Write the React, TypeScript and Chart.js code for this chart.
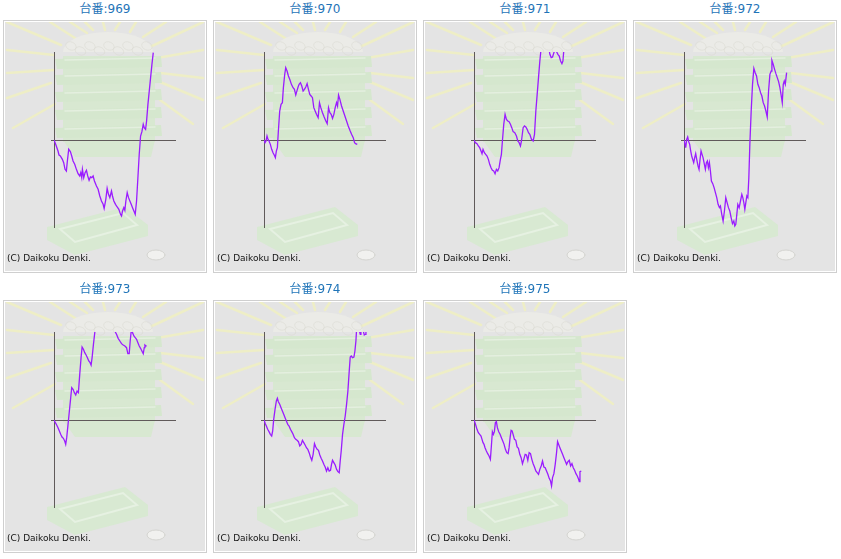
import React, { useEffect, useRef } from "react";
import { Chart, registerables } from "chart.js";

Chart.register(...registerables);

// machine numbers (panel titles)
const machineNos: number[] = [969, 970, 971, 972, 973, 974, 975];

// [games, coin difference]
const series969: [number, number][] = [
  [0, 0], [100, -130], [240, -330], [300, -450], [380, -480], [500, -580], [580, -680], [660, -880], [740, -930], [800, -630],
  [880, -280], [980, -350], [1060, -480], [1140, -630], [1240, -730], [1340, -880], [1440, -1010], [1540, -1080], [1600, -980], [1660, -1130],
  [1700, -880], [1780, -1130], [1860, -980], [1940, -910], [2020, -1080], [2100, -1210], [2180, -1110], [2260, -1130], [2340, -1080], [2420, -1230],
  [2540, -1380], [2640, -1480], [2740, -1680], [2840, -1830], [2940, -1930], [3000, -2050], [3100, -1780], [3180, -1450], [3260, -1630], [3340, -1730],
  [3440, -1530], [3500, -1680], [3580, -1830], [3680, -1930], [3780, -2010], [3880, -2080], [3980, -2230], [4040, -2280], [4100, -2130], [4180, -2030],
  [4240, -2110], [4300, -1830], [4380, -1580], [4460, -1730], [4540, -1830], [4620, -1930], [4700, -2030], [4780, -2130], [4860, -2230], [4940, -1830],
  [5020, -1130], [5100, -430], [5180, 120], [5260, 250], [5340, 470], [5400, 370], [5480, 320], [5540, 570], [5620, 1070], [5700, 1470],
  [5780, 1870], [5860, 2270], [5940, 2620],
];

const series970: [number, number][] = [
  [0, 0], [60, -80], [120, -30], [180, 120], [240, 20], [300, -30], [380, -130], [460, -280], [540, -380], [620, -460],
  [680, -530], [740, -330], [800, -230], [860, 270], [940, 870], [1020, 1070], [1100, 1120], [1160, 1570], [1240, 1970], [1300, 2170],
  [1380, 2070], [1460, 1920], [1540, 1820], [1640, 1670], [1740, 1570], [1820, 1520], [1900, 1350], [1980, 1490], [2040, 1590], [2100, 1670],
  [2180, 1720], [2260, 1620], [2340, 1470], [2420, 1520], [2500, 1590], [2580, 1690], [2660, 1520], [2740, 1370], [2820, 1320], [2900, 1270],
  [2980, 970], [3060, 870], [3140, 770], [3240, 670], [3320, 1120], [3400, 970], [3500, 820], [3600, 690], [3700, 570], [3780, 490],
  [3860, 970], [3940, 820], [4020, 770], [4100, 650], [4180, 770], [4260, 970], [4340, 1120], [4400, 1020], [4460, 1350], [4540, 1220],
  [4640, 1020], [4740, 870], [4840, 720], [4940, 570], [5040, 420], [5140, 290], [5240, 170], [5340, 70], [5420, -80], [5480, -110],
  [5580, -130],
];

const series971: [number, number][] = [
  [0, 0], [80, -80], [180, -110], [260, -180], [340, -230], [420, -330], [480, -410], [540, -280], [620, -380], [700, -430],
  [780, -480], [860, -580], [940, -730], [1020, -830], [1100, -910], [1180, -930], [1260, -1010], [1340, -880], [1420, -930], [1500, -830],
  [1580, -580], [1640, -430], [1700, -30], [1780, 470], [1860, 770], [1940, 620], [2020, 570], [2100, 550], [2180, 470], [2260, 370],
  [2340, 250], [2440, 220], [2540, 120], [2620, -30], [2700, -80], [2780, -180], [2840, -30], [2940, 370], [3020, 420], [3100, 390],
  [3180, 320], [3260, 220], [3340, 170], [3440, 20], [3540, -30], [3620, 170], [3700, 870], [3780, 1370], [3860, 1870], [3940, 2370],
  [4020, 2770], [4140, 3170], [4300, 3070], [4460, 2820], [4540, 2570], [4620, 2470], [4700, 2490], [4780, 2620], [4860, 2720], [4940, 2650],
  [5020, 2570], [5100, 2520], [5180, 2370], [5260, 2290], [5320, 2370], [5380, 2720],
];

const series972: [number, number][] = [
  [0, 0], [60, -130], [100, -230], [160, 20], [220, 90], [280, -50], [340, -130], [400, -330], [460, -480], [520, -580],
  [580, -680], [640, -530], [700, -410], [760, -580], [840, -780], [900, -880], [960, -580], [1020, -330], [1080, -430], [1140, -530],
  [1220, -730], [1280, -880], [1340, -680], [1400, -630], [1460, -830], [1520, -680], [1580, -930], [1640, -1230], [1720, -1310], [1800, -1430],
  [1880, -1580], [1960, -1730], [2040, -1930], [2120, -2030], [2180, -1980], [2260, -2230], [2340, -2430], [2420, -2130], [2500, -1730], [2580, -1880],
  [2660, -2030], [2740, -2130], [2820, -2330], [2900, -2510], [2980, -2430], [3040, -2580], [3100, -2530], [3160, -2230], [3220, -1930], [3300, -2030],
  [3380, -1830], [3460, -1630], [3520, -1730], [3580, -1880], [3640, -2080], [3700, -1880], [3760, -1680], [3820, -1730], [3880, -1130], [3940, -130],
  [4020, 870], [4100, 1670], [4180, 2150], [4260, 2020], [4340, 1920], [4420, 1670], [4500, 1570], [4580, 1420], [4660, 1320], [4740, 1120],
  [4820, 1020], [4900, 870], [4980, 690], [5060, 1470], [5140, 1970], [5220, 2070], [5260, 2390], [5340, 2270], [5420, 2120], [5500, 1990],
  [5580, 1870], [5660, 1750], [5740, 1570], [5820, 1320], [5880, 1120], [5940, 1670], [6000, 1770], [6060, 1670], [6140, 2020],
];

const series973: [number, number][] = [
  [0, 0], [80, -80], [160, -150], [240, -230], [320, -330], [400, -430], [480, -510], [560, -550], [640, -630], [700, -730],
  [760, -530], [840, -130], [920, 270], [1000, 670], [1060, 970], [1140, 920], [1220, 820], [1300, 750], [1380, 870], [1460, 820],
  [1540, 1370], [1620, 1870], [1680, 2190], [1760, 2120], [1840, 2020], [1920, 1950], [2000, 1870], [2080, 1770], [2160, 1720], [2220, 1650],
  [2280, 1870], [2360, 2270], [2440, 2620], [2500, 2970], [2940, 3470], [3340, 3170], [3640, 2670], [3740, 2570], [3840, 2450], [3940, 2370],
  [4040, 2290], [4140, 2250], [4240, 2220], [4340, 2170], [4420, 1990], [4500, 1990], [4560, 2370], [4620, 2670], [4700, 2620], [4780, 2520],
  [4860, 2470], [4940, 2420], [5020, 2320], [5100, 2220], [5180, 2150], [5260, 2070], [5340, 1990], [5400, 2170], [5440, 2250], [5500, 2220],
  [5540, 2230],
];

const series974: [number, number][] = [
  [0, 0], [80, -110], [140, -180], [220, -280], [300, -350], [380, -430], [460, -480], [520, -330], [580, 20], [660, 320],
  [740, 570], [800, 650], [860, 550], [940, 470], [1020, 370], [1100, 270], [1180, 170], [1260, 70], [1340, -30], [1420, -130],
  [1500, -180], [1580, -280], [1660, -350], [1740, -430], [1820, -530], [1900, -580], [1980, -610], [2060, -650], [2140, -780], [2220, -730],
  [2300, -610], [2380, -680], [2460, -750], [2540, -830], [2620, -880], [2700, -980], [2780, -1110], [2860, -1210], [2940, -1030], [3020, -710],
  [3100, -810], [3180, -880], [3260, -910], [3340, -1050], [3420, -1150], [3500, -1230], [3580, -1330], [3660, -1410], [3740, -1530], [3820, -1430],
  [3900, -1530], [3980, -1510], [4040, -1330], [4100, -1210], [4180, -1280], [4260, -1350], [4340, -1480], [4420, -1550], [4500, -1580], [4560, -1230],
  [4620, -930], [4700, -430], [4780, -130], [4860, 120], [4940, 470], [5020, 870], [5100, 1470], [5160, 1890], [5220, 1920], [5300, 1870],
  [5380, 1890], [5440, 2070], [5500, 2370], [5540, 2720], [5580, 2820], [5660, 2920], [5720, 2650], [5760, 2570], [5800, 2770], [5880, 2920],
  [5940, 2670], [6000, 2550], [6060, 2570], [6100, 2670], [6140, 2770],
];

const series975: [number, number][] = [
  [0, 0], [60, -80], [120, -180], [180, -280], [260, -380], [340, -430], [420, -480], [480, -580], [540, -680], [600, -730],
  [660, -830], [740, -930], [820, -1010], [900, -1080], [980, -1180], [1040, -780], [1100, -350], [1160, -430], [1220, -350], [1280, -80],
  [1340, -50], [1400, -230], [1480, -350], [1560, -430], [1640, -530], [1720, -630], [1800, -730], [1880, -880], [1960, -980], [2040, -1010],
  [2100, -830], [2160, -530], [2220, -310], [2280, -330], [2340, -430], [2420, -580], [2500, -610], [2580, -810], [2660, -850], [2740, -1030],
  [2820, -1130], [2900, -1310], [2980, -1180], [3060, -1030], [3140, -1050], [3220, -1210], [3300, -980], [3380, -1010], [3460, -1180], [3540, -1310],
  [3620, -1410], [3700, -1530], [3780, -1580], [3860, -1630], [3940, -1480], [4020, -1380], [4100, -1230], [4180, -1410], [4260, -1430], [4340, -1530],
  [4420, -1630], [4500, -1750], [4580, -1830], [4640, -1980], [4700, -1730], [4780, -1610], [4860, -1330], [4940, -980], [5000, -650], [5060, -730],
  [5140, -830], [5220, -930], [5300, -1030], [5380, -1130], [5460, -1230], [5540, -1330], [5620, -1250], [5700, -1210], [5780, -1380], [5860, -1310],
  [5940, -1430], [6020, -1510], [6100, -1610], [6180, -1680], [6260, -1780], [6300, -1850], [6340, -1550], [6420, -1530],
];

const allSeries: [number, number][][] = [series969, series970, series971, series972, series973, series974, series975];

// axis ranges (no tick labels in the original)
const X_MIN = 0;
const X_MAX = 7300;
const Y_MIN = -2640;
const Y_MAX = 2640;

const LINE_COLOR = "#9a1cff";
const AXIS_COLOR = "#605a5a";
const TITLE_COLOR = "#1f74b8";

// decorative background (pale machine illustration)
const backdropPlugin = {
  id: "backdrop",
  beforeDraw(chart: any) {
    const ctx: CanvasRenderingContext2D = chart.ctx;
    const w = chart.width;
    const h = chart.height;
    ctx.save();
    ctx.fillStyle = "#e4e4e4";
    ctx.fillRect(0, 0, w, h);

    // rays
    const rays: number[][] = [
      [2, 0, 56, 23], [2, 28, 49, 33], [2, 51, 49, 48], [2, 76, 46, 61], [8, 106, 50, 82],
      [198, 0, 145, 25], [198, 28, 152, 36], [198, 56, 155, 51], [198, 78, 155, 60], [188, 102, 155, 78],
      [45, 0, 73, 18], [65, 0, 82, 11], [80, 0, 88, 8], [98, 0, 100, 8], [115, 0, 110, 8], [131, 0, 125, 10], [161, 0, 138, 15],
    ];
    ctx.strokeStyle = "#eeeec6";
    ctx.lineWidth = 2.5;
    ctx.lineCap = "round";
    rays.forEach((r) => {
      ctx.beginPath();
      ctx.moveTo(r[0], r[1]);
      ctx.lineTo(r[2], r[3]);
      ctx.stroke();
    });

    // pile of balls on top
    ctx.fillStyle = "#ebebe7";
    ctx.beginPath();
    ctx.ellipse(103, 30, 45, 20, 0, Math.PI, 2 * Math.PI);
    ctx.fill();
    ctx.strokeStyle = "#dcdcd6";
    ctx.lineWidth = 0.7;
    for (let i = 0; i < 9; i++) {
      ctx.beginPath();
      ctx.ellipse(66 + i * 9.5, 24 + (i % 2) * 5, 5.5, 4, 0.4, 0, 2 * Math.PI);
      ctx.stroke();
    }

    // stacked green trays
    ctx.fillStyle = "#d8e8d1";
    ctx.fillRect(58, 34, 92, 86);
    ctx.beginPath();
    ctx.moveTo(58, 118);
    ctx.lineTo(150, 118);
    ctx.lineTo(146, 135);
    ctx.lineTo(70, 135);
    ctx.closePath();
    ctx.fill();
    const tiers = [34, 50, 67, 85, 103];
    tiers.forEach((ty) => {
      ctx.fillStyle = "#d5e7ce";
      ctx.beginPath();
      ctx.moveTo(50, ty + 3);
      ctx.lineTo(156, ty);
      ctx.lineTo(157, ty + 11);
      ctx.lineTo(52, ty + 13);
      ctx.closePath();
      ctx.fill();
      ctx.strokeStyle = "#e4efdf";
      ctx.lineWidth = 1.5;
      ctx.beginPath();
      ctx.moveTo(60, ty + 4);
      ctx.lineTo(150, ty + 2);
      ctx.stroke();
    });

    // bottom tray
    ctx.fillStyle = "#d8e9d2";
    ctx.beginPath();
    ctx.moveTo(42, 205);
    ctx.lineTo(120, 185);
    ctx.lineTo(143, 203);
    ctx.lineTo(143, 214);
    ctx.lineTo(70, 233);
    ctx.lineTo(42, 218);
    ctx.closePath();
    ctx.fill();
    ctx.strokeStyle = "#e6f1e2";
    ctx.lineWidth = 2;
    ctx.beginPath();
    ctx.moveTo(55, 207);
    ctx.lineTo(118, 191);
    ctx.lineTo(132, 203);
    ctx.lineTo(70, 220);
    ctx.closePath();
    ctx.stroke();

    // coin
    ctx.fillStyle = "#f1f1ef";
    ctx.strokeStyle = "#d4d4d0";
    ctx.lineWidth = 1;
    ctx.beginPath();
    ctx.ellipse(151, 233, 9, 5, 0, 0, 2 * Math.PI);
    ctx.fill();
    ctx.stroke();
    ctx.restore();
  },
  beforeDatasetsDraw(chart: any) {
    const ctx: CanvasRenderingContext2D = chart.ctx;
    const area = chart.chartArea;
    const x0 = Math.round(chart.scales.x.getPixelForValue(0)) + 0.5;
    const y0 = Math.round(chart.scales.y.getPixelForValue(0)) + 0.5;
    ctx.save();
    ctx.strokeStyle = AXIS_COLOR;
    ctx.lineWidth = 1;
    ctx.beginPath();
    ctx.moveTo(x0, area.top);
    ctx.lineTo(x0, area.bottom);
    ctx.moveTo(x0 - 3.5, y0);
    ctx.lineTo(area.right, y0);
    ctx.stroke();
    ctx.restore();
  },
};

function Panel({ points }: { points: [number, number][] }) {
  const ref = useRef<HTMLCanvasElement | null>(null);
  useEffect(() => {
    if (!ref.current) return;
    const chart = new Chart(ref.current, {
      type: "line",
      data: {
        datasets: [
          {
            data: points.map(([x, y]) => ({ x, y })),
            borderColor: LINE_COLOR,
            borderWidth: 1.3,
            pointRadius: 0,
            tension: 0,
            fill: false,
          },
        ],
      },
      options: {
        animation: false,
        responsive: false,
        maintainAspectRatio: false,
        events: [],
        layout: { padding: { left: 49, right: 29, top: 30, bottom: 43 } },
        plugins: {
          legend: { display: false },
          tooltip: { enabled: false },
          title: { display: false },
        },
        scales: {
          x: { type: "linear", min: X_MIN, max: X_MAX, display: false },
          y: { type: "linear", min: Y_MIN, max: Y_MAX, display: false },
        },
      },
      plugins: [backdropPlugin],
    } as any);
    return () => chart.destroy();
  }, [points]);
  return <canvas ref={ref} width={200} height={249} style={{ display: "block" }} />;
}

export default function App() {
  return (
    <div
      style={{
        position: "absolute",
        left: 0,
        top: 0,
        width: 841,
        height: 559,
        background: "#ffffff",
        fontFamily: "'DejaVu Sans', 'Noto Sans CJK JP', sans-serif",
      }}
    >
      {machineNos.map((no, i) => {
        const col = i % 4;
        const row = Math.floor(i / 4);
        const left = 3 + col * 210;
        const top = row * 280;
        return (
          <React.Fragment key={no}>
            <div
              style={{
                position: "absolute",
                left,
                top: top + 1,
                width: 204,
                textAlign: "center",
                fontSize: 12,
                lineHeight: "16px",
                color: TITLE_COLOR,
              }}
            >
              台番:{no}
            </div>
            <div
              style={{
                position: "absolute",
                left,
                top: top + 20,
                width: 204,
                height: 253,
                boxSizing: "border-box",
                border: "1px solid #cfcfcf",
                padding: 1,
                background: "#ffffff",
              }}
            >
              <Panel points={allSeries[i]} />
              <span
                style={{
                  position: "absolute",
                  left: 3,
                  top: 232,
                  fontSize: 9,
                  lineHeight: "11px",
                  color: "#111",
                  whiteSpace: "nowrap",
                }}
              >
                (C) Daikoku Denki.
              </span>
            </div>
          </React.Fragment>
        );
      })}
    </div>
  );
}
